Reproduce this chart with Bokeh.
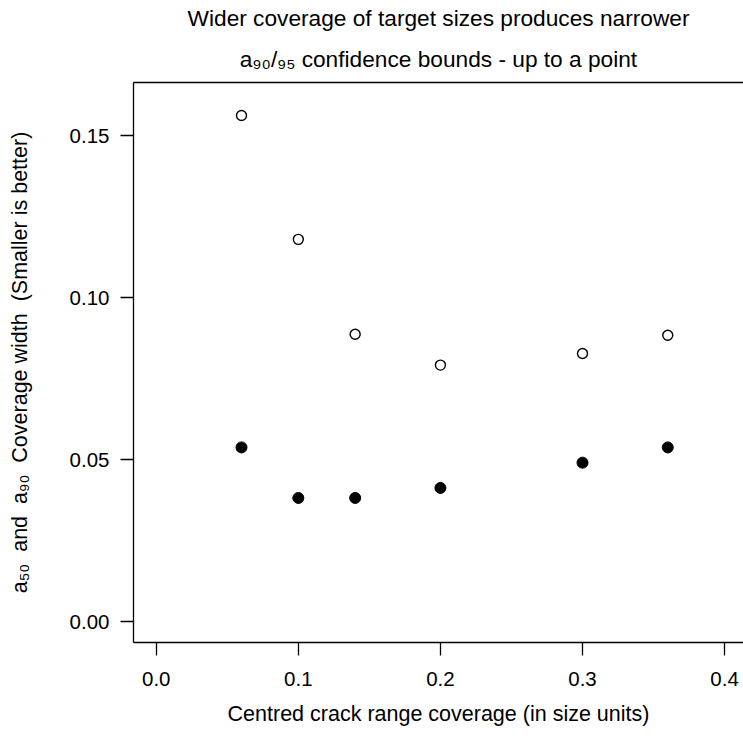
from bokeh.plotting import figure
from bokeh.models import (ColumnDataSource, FixedTicker, LinearAxis, Title,
                          NumeralTickFormatter, Range1d)
from bokeh.embed import file_html
from bokeh.resources import INLINE

# ---- data ----
coverage = [0.06, 0.10, 0.14, 0.20, 0.30, 0.36]
a90_width = [0.1562, 0.1180, 0.0887, 0.0792, 0.0828, 0.0884]   # open circles
a50_width = [0.0538, 0.0382, 0.0382, 0.0413, 0.0491, 0.0538]   # filled circles
x_ticks = [0.0, 0.1, 0.2, 0.3, 0.4]
y_ticks = [0.00, 0.05, 0.10, 0.15]

NB = "\u00a0"
title_line1 = "Wider coverage of target sizes produces narrower"
title_line2 = "a\u2089\u2080/\u2089\u2085 confidence bounds - up to a point"
x_label = "Centred crack range coverage (in size units)"
y_label = ("a\u2085\u2080" + NB + " and" + NB + " a\u2089\u2080" + NB +
           " Coverage width" + NB + " (Smaller is better)")

FONT = "Liberation Sans"
W, H = 743, 751
FL, FT, FB = 133, 81, 642   # frame left / top / bottom in canvas px

src_open = ColumnDataSource(dict(x=coverage, y=a90_width))
src_fill = ColumnDataSource(dict(x=coverage, y=a50_width))

p = figure(width=W, height=H, output_backend="svg", toolbar_location=None,
           x_range=Range1d(-0.016, 0.4133), y_range=Range1d(-0.0064, 0.1664),
           min_border_left=FL, min_border_right=0, min_border_top=FT,
           min_border_bottom=H - FB, x_axis_location=None, y_axis_location=None)
p.outline_line_color = None
p.xgrid.visible = False
p.ygrid.visible = False
p.background_fill_color = "white"
p.border_fill_color = "white"

def style_axis(ax):
    ax.axis_line_color = "black"
    ax.axis_line_width = 1.3
    ax.major_tick_line_color = "black"
    ax.major_tick_line_width = 1.3
    ax.major_tick_in = 0
    ax.major_tick_out = 13
    ax.minor_tick_line_color = None
    ax.major_label_text_font = FONT
    ax.major_label_text_font_size = "20.5px"
    ax.major_label_text_color = "black"
    ax.axis_label_text_font = FONT
    ax.axis_label_text_font_size = "21.5px"
    ax.axis_label_text_font_style = "normal"
    ax.axis_label_text_color = "black"

xaxis = LinearAxis(ticker=FixedTicker(ticks=x_ticks),
                   formatter=NumeralTickFormatter(format="0.0"),
                   axis_label=x_label)
style_axis(xaxis)
xaxis.major_label_standoff = 16
xaxis.axis_label_standoff = 13
p.add_layout(xaxis, "below")

yaxis = LinearAxis(ticker=FixedTicker(ticks=y_ticks),
                   formatter=NumeralTickFormatter(format="0.00"),
                   axis_label=y_label)
style_axis(yaxis)
yaxis.major_label_standoff = 11
yaxis.axis_label_standoff = 35
p.add_layout(yaxis, "left")

top = LinearAxis(ticker=FixedTicker(ticks=[]))
top.axis_line_color = "black"
top.axis_line_width = 1.3
top.major_tick_line_color = None
top.minor_tick_line_color = None
top.major_label_text_font_size = "0px"
p.add_layout(top, "above")

for txt, so in ((title_line2, 22), (title_line1, 4)):
    p.add_layout(Title(text=txt, align="center", offset=2, standoff=so,
                       text_font=FONT, text_font_size="22.7px",
                       text_font_style="normal", text_color="black"), "above")

p.scatter("x", "y", source=src_open, marker="circle", size=10,
          fill_color=None, line_color="black", line_width=1.4)
p.scatter("x", "y", source=src_fill, marker="circle", size=11,
          fill_color="black", line_color="black", line_width=1)

open("out.html", "w").write(file_html(p, INLINE))
